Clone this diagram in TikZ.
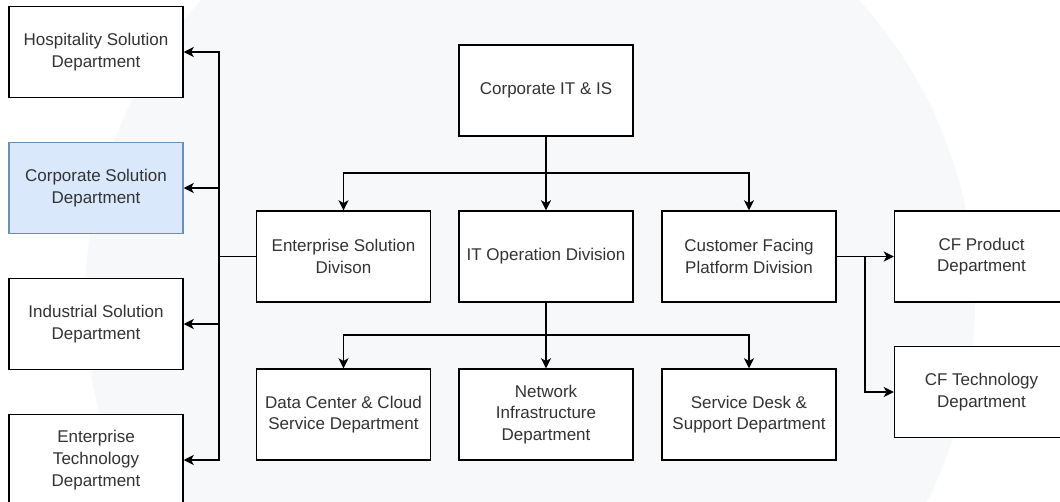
\documentclass[tikz,border=0pt]{standalone}
\usepackage{fontspec}
\setmainfont{Liberation Sans}
\usetikzlibrary{arrows.meta}
\definecolor{txt}{HTML}{333333}
\definecolor{wm}{HTML}{F7F8FA}
\definecolor{bluefill}{HTML}{DAE8FC}
\definecolor{blueline}{HTML}{6C8EBF}
\tikzset{
  box/.style={draw=black, fill=white, line width=1.1pt, minimum width=130.5pt, minimum height=68.25pt,
    align=center, text=txt, font=\fontsize{12.75pt}{16.3pt}\selectfont, inner sep=0pt},
  bluebox/.style={box, draw=blueline, fill=bluefill},
  conn/.style={draw=black, line width=1.1pt},
  arr/.style={conn, -{Stealth[length=7.5pt, width=7.5pt, inset=2pt]}}
}
\begin{document}
\begin{tikzpicture}[x=0.75pt, y=-0.75pt]
\useasboundingbox (0,0) rectangle (1060,501);
\clip (0,0) rectangle (1060,501);
\fill[white] (0,0) rectangle (1060,501);
\fill[wm] (530,300) circle [radius=445];

\node[box] (top) at (546,90.5) {Corporate IT \& IS};

\node[box] (esd) at (343.5,256.5) {Enterprise Solution\\Divison};
\node[box] (itod) at (546,256.5) {IT Operation Division};
\node[box] (cfpd) at (749,256.5) {Customer Facing\\Platform Division};

\node[box] (dc) at (343.5,414.5) {Data Center \& Cloud\\Service Department};
\node[box] (ni) at (546,414.5) {Network\\Infrastructure\\Department};
\node[box] (sd) at (749,414.5) {Service Desk \&\\Support Department};

\node[box] (hosp) at (96,52) {Hospitality Solution\\Department};
\node[bluebox] (corp) at (96,188) {Corporate Solution\\Department};
\node[box] (ind) at (96,324) {Industrial Solution\\Department};
\node[box] (ent) at (96,460) {Enterprise\\Technology\\Department};

\node[box] (cfp) at (981.5,256.5) {CF Product\\Department};
\node[box] (cft) at (981.5,392) {CF Technology\\Department};

% Corporate IT to divisions
\coordinate (j1) at (546,173);
\draw[arr] (top.south) -- (itod.north);
\draw[arr] (j1) -| (esd.north);
\draw[arr] (j1) -| (cfpd.north);

% IT Operation to departments
\coordinate (j2) at (546,335);
\draw[arr] (itod.south) -- (ni.north);
\draw[arr] (j2) -| (dc.north);
\draw[arr] (j2) -| (sd.north);

% Enterprise Solution to left departments
\coordinate (lb) at (219,256.5);
\draw[conn] (esd.west) -- (lb);
\draw[arr] (lb) |- (hosp.east);
\draw[arr] (lb) |- (corp.east);
\draw[arr] (lb) |- (ind.east);
\draw[arr] (lb) |- (ent.east);

% Customer Facing to CF departments
\coordinate (rb) at (865,256.5);
\draw[arr] (cfpd.east) -- (cfp.west);
\draw[arr] (rb) |- (cft.west);
\end{tikzpicture}
\end{document}
